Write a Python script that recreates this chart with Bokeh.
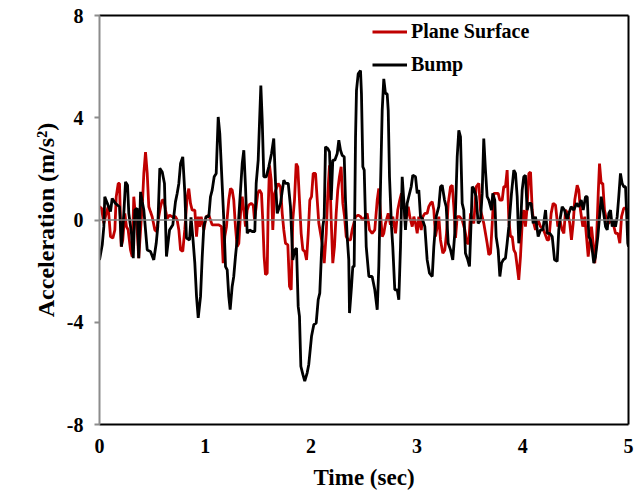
from bokeh.plotting import figure
from bokeh.models import Range1d, FixedTicker, LinearAxis, Legend, LegendItem, Span
from bokeh.embed import file_html
from bokeh.resources import INLINE

x_ticks = [0, 1, 2, 3, 4, 5]
y_ticks = [-8, -4, 0, 4, 8]
y_tick_labels = {-8: "-8", -4: "-4", 0: "0", 4: "4", 8: "8"}

bump_t = [
    0.000, 0.026, 0.041, 0.050, 0.073, 0.104, 0.120, 0.151, 0.189, 0.208,
    0.230, 0.246, 0.265, 0.277, 0.302, 0.319, 0.334, 0.356, 0.371, 0.388,
    0.404, 0.419, 0.451, 0.482, 0.513, 0.536, 0.551, 0.570, 0.593, 0.614,
    0.633, 0.662, 0.693, 0.718, 0.734, 0.750, 0.766, 0.787, 0.806, 0.822,
    0.851, 0.865, 0.884, 0.901, 0.917, 0.933, 0.955, 0.971, 0.986, 1.008,
    1.033, 1.049, 1.065, 1.084, 1.103, 1.122, 1.137, 1.153, 1.175, 1.191,
    1.207, 1.222, 1.235, 1.254, 1.269, 1.285, 1.301, 1.317, 1.333, 1.349,
    1.364, 1.380, 1.396, 1.418, 1.443, 1.468, 1.481, 1.500, 1.512, 1.525,
    1.538, 1.553, 1.576, 1.600, 1.626, 1.647, 1.664, 1.680, 1.711, 1.742,
    1.758, 1.784, 1.805, 1.827, 1.846, 1.862, 1.878, 1.890, 1.903, 1.922,
    1.940, 1.963, 1.978, 2.004, 2.026, 2.048, 2.067, 2.082, 2.098, 2.111,
    2.124, 2.136, 2.158, 2.174, 2.190, 2.205, 2.224, 2.247, 2.262, 2.278,
    2.294, 2.313, 2.325, 2.341, 2.356, 2.363, 2.382, 2.394, 2.407, 2.420,
    2.429, 2.445, 2.467, 2.476, 2.489, 2.502, 2.521, 2.546, 2.577, 2.602,
    2.625, 2.640, 2.656, 2.672, 2.687, 2.703, 2.719, 2.729, 2.741, 2.760,
    2.772, 2.791, 2.814, 2.829, 2.845, 2.861, 2.876, 2.892, 2.908, 2.923,
    2.946, 2.961, 2.987, 3.003, 3.018, 3.034, 3.050, 3.075, 3.097, 3.119,
    3.145, 3.160, 3.182, 3.207, 3.223, 3.239, 3.261, 3.277, 3.296, 3.318,
    3.339, 3.358, 3.381, 3.396, 3.412, 3.428, 3.443, 3.459, 3.481, 3.497,
    3.513, 3.523, 3.538, 3.560, 3.579, 3.601, 3.617, 3.632, 3.648, 3.664,
    3.680, 3.705, 3.717, 3.736, 3.749, 3.768, 3.784, 3.800, 3.816, 3.837,
    3.853, 3.869, 3.894, 3.916, 3.932, 3.948, 3.963, 3.979, 3.995, 4.010,
    4.026, 4.042, 4.058, 4.080, 4.099, 4.121, 4.146, 4.168, 4.190, 4.216,
    4.232, 4.256, 4.279, 4.301, 4.326, 4.341, 4.357, 4.373, 4.395, 4.421,
    4.436, 4.458, 4.483, 4.509, 4.530, 4.553, 4.572, 4.594, 4.610, 4.625,
    4.641, 4.657, 4.672, 4.688, 4.710, 4.729, 4.742, 4.761, 4.783, 4.799,
    4.814, 4.830, 4.846, 4.861, 4.877, 4.893, 4.908, 4.924, 4.940, 4.955,
    4.972, 4.981, 4.993, 5.000,
]
bump_acc = [
    -1.56, -0.97, -0.26, 0.91, 0.66, 0.33, 0.84, 0.65, 0.52, -1.04,
    0.26, 1.49, 1.36, 0.26, -0.52, -1.49, 0.39, 0.46, -1.49, 1.10,
    0.71, 0.39, -1.17, -1.23, -1.56, -0.91, -0.26, 2.02, 1.88, 1.43,
    -1.43, -0.39, -0.19, 0.71, 1.04, 1.43, 2.21, 2.47, 1.10, -0.71,
    -0.78, 0.10, -0.78, -1.69, -2.99, -3.83, -2.99, -1.43, -0.26, 0.13,
    0.13, 0.91, 1.17, 1.69, 1.82, 4.03, 3.38, 1.95, 0.00, -1.82,
    -1.95, -2.99, -3.51, -2.60, -2.21, -1.43, -0.78, 0.13, 1.17, 2.21,
    2.73, 1.30, -0.52, -0.39, -0.45, -0.45, 1.43, 2.34, 3.77, 5.26,
    3.90, 1.69, 1.69, 2.08, 2.60, 3.19, 1.43, 0.26, 0.65, 1.56,
    1.43, 1.43, 0.52, -1.56, -1.17, -1.10, -3.38, -3.77, -5.72, -6.04,
    -6.30, -5.98, -5.65, -4.55, -4.09, -4.03, -3.12, -2.86, -1.30, -0.26,
    0.13, 2.86, 2.79, 2.66, 0.78, 2.34, 2.34, 2.60, 3.12, 2.73,
    2.53, 2.47, 0.78, -0.65, -1.56, -3.64, -2.60, -1.82, -1.82, 3.25,
    5.07, 5.72, 5.85, 4.94, 2.08, 1.95, -1.04, -2.21, -2.21, -2.73,
    -3.51, -1.82, 1.30, 4.29, 5.52, 4.94, 4.94, 4.29, 1.69, -0.26,
    -1.04, -2.73, -2.73, -3.12, -1.04, 1.69, 0.78, -0.39, 0.65, 0.91,
    1.30, 1.75, 1.69, 1.04, 1.17, 0.13, 0.06, -0.26, -1.56, -2.08,
    -2.21, -1.04, 0.13, 0.52, 1.30, 1.36, 0.78, 0.52, -0.91, -1.17,
    -1.56, -0.52, 2.47, 3.51, 3.25, 0.65, 0.39, -1.30, -1.56, -1.82,
    0.00, 1.30, 1.23, 0.91, -0.13, 0.00, 1.04, 3.19, 1.95, 0.91,
    0.78, 0.39, 1.04, 0.78, -0.65, -1.17, -2.21, -1.69, -1.56, -1.49,
    -0.91, -0.26, 1.04, 1.95, 1.82, 0.91, -0.91, -0.26, 1.17, 1.69,
    1.75, 0.39, 0.65, 0.65, -0.13, 0.13, -0.65, -0.39, -0.39, 0.39,
    -0.52, -0.52, -0.65, -1.56, -1.62, -0.39, 0.13, 0.52, 0.39, 0.00,
    0.26, 0.52, 0.39, 0.65, 0.52, 0.78, 0.39, 0.91, 0.91, -0.65,
    -0.78, -1.17, -1.69, -1.43, -0.65, 0.26, 0.91, 0.39, -0.26, -0.39,
    0.26, 0.39, -0.26, 0.00, -0.26, 0.13, 0.91, 1.82, 1.43, 1.30,
    1.30, 0.39, -0.91, -1.04,
]

plane_t = [
    0.000, 0.019, 0.041, 0.063, 0.082, 0.104, 0.126, 0.145, 0.158, 0.177,
    0.189, 0.205, 0.220, 0.239, 0.255, 0.271, 0.293, 0.309, 0.324, 0.340,
    0.356, 0.371, 0.388, 0.404, 0.419, 0.435, 0.451, 0.466, 0.482, 0.498,
    0.523, 0.539, 0.560, 0.577, 0.593, 0.608, 0.624, 0.640, 0.662, 0.687,
    0.718, 0.734, 0.750, 0.766, 0.787, 0.806, 0.829, 0.844, 0.860, 0.876,
    0.901, 0.917, 0.933, 0.945, 0.961, 0.986, 1.008, 1.033, 1.065, 1.096,
    1.128, 1.153, 1.169, 1.184, 1.200, 1.222, 1.238, 1.254, 1.269, 1.285,
    1.301, 1.317, 1.333, 1.349, 1.364, 1.380, 1.396, 1.411, 1.434, 1.453,
    1.465, 1.481, 1.496, 1.512, 1.531, 1.543, 1.556, 1.569, 1.585, 1.594,
    1.607, 1.623, 1.638, 1.654, 1.689, 1.711, 1.727, 1.742, 1.758, 1.780,
    1.796, 1.812, 1.827, 1.843, 1.859, 1.874, 1.890, 1.906, 1.922, 1.940,
    1.957, 1.973, 1.988, 2.004, 2.020, 2.042, 2.058, 2.073, 2.089, 2.105,
    2.124, 2.143, 2.158, 2.174, 2.190, 2.205, 2.221, 2.237, 2.252, 2.268,
    2.284, 2.300, 2.316, 2.332, 2.351, 2.372, 2.388, 2.404, 2.420, 2.445,
    2.467, 2.489, 2.514, 2.530, 2.552, 2.577, 2.602, 2.625, 2.640, 2.656,
    2.672, 2.687, 2.703, 2.729, 2.750, 2.772, 2.798, 2.819, 2.838, 2.854,
    2.876, 2.892, 2.918, 2.933, 2.956, 2.971, 2.987, 3.003, 3.018, 3.041,
    3.056, 3.075, 3.097, 3.112, 3.129, 3.145, 3.160, 3.176, 3.192, 3.207,
    3.223, 3.245, 3.264, 3.280, 3.296, 3.318, 3.334, 3.349, 3.365, 3.381,
    3.403, 3.428, 3.453, 3.475, 3.490, 3.507, 3.523, 3.538, 3.560, 3.585,
    3.601, 3.617, 3.632, 3.648, 3.664, 3.680, 3.696, 3.712, 3.727, 3.743,
    3.768, 3.784, 3.806, 3.821, 3.837, 3.853, 3.869, 3.885, 3.901, 3.916,
    3.932, 3.948, 3.963, 3.979, 3.995, 4.010, 4.026, 4.042, 4.058, 4.074,
    4.090, 4.105, 4.121, 4.146, 4.168, 4.190, 4.209, 4.232, 4.247, 4.269,
    4.288, 4.310, 4.332, 4.351, 4.373, 4.389, 4.405, 4.426, 4.445, 4.461,
    4.477, 4.492, 4.515, 4.530, 4.546, 4.568, 4.587, 4.603, 4.619, 4.634,
    4.650, 4.666, 4.681, 4.698, 4.714, 4.726, 4.742, 4.757, 4.773, 4.792,
    4.814, 4.836, 4.855, 4.877, 4.899, 4.918, 4.934, 4.955, 4.972, 4.993,
]
plane_acc = [
    0.52, 0.46, -0.13, 0.26, 0.52, -0.65, -0.71, -0.39, 0.91, 1.43,
    1.43, -1.04, -0.78, 0.26, -0.26, -0.39, -1.17, -1.43, 0.91, 0.13,
    -0.39, -1.49, -0.39, 0.52, 1.82, 2.66, 1.82, 0.52, 0.32, 0.13,
    -0.39, -0.45, 0.13, 0.52, 0.78, 0.78, 0.39, 0.06, 0.19, 0.13,
    0.13, 0.00, -0.39, -1.17, -1.23, -0.39, 0.91, 1.23, 0.65, 0.39,
    0.39, -0.65, 0.13, -0.26, 0.13, -0.39, 0.13, 0.19, -0.19, -0.19,
    -0.19, -0.26, -1.69, -0.65, -0.26, 0.78, 1.23, 1.17, 0.78, -0.26,
    -1.04, -0.91, 0.26, 0.91, 0.39, -0.26, 0.39, 0.58, 0.65, 0.58,
    0.00, 0.52, 1.04, 1.17, 1.04, 0.00, -1.43, -2.14, -2.08, 0.39,
    2.14, 1.56, -0.39, 1.04, 1.43, 1.30, 0.26, -0.39, -0.91, -0.97,
    -2.60, -2.73, 0.00, 0.78, 2.21, 2.08, 0.78, -0.52, -1.17, -1.23,
    -1.56, -0.52, 0.78, 0.91, 1.82, 1.82, 0.78, -0.13, -0.52, -0.91,
    -1.69, -0.52, 1.04, 2.14, 0.00, -1.69, -1.04, 0.26, 1.17, 1.69,
    2.08, 0.65, 0.13, -0.65, -0.78, -0.78, -0.39, -0.13, 0.13, 0.19,
    0.13, 0.00, 0.13, 0.26, -0.39, -0.52, -0.39, 0.78, 1.23, 0.26,
    -0.65, -0.52, -0.13, 0.26, -0.19, 0.13, -0.52, 0.39, 0.78, 1.04,
    0.65, -0.13, 0.52, 0.13, -0.26, 0.13, -0.13, -0.52, 0.13, -0.39,
    0.13, 0.26, 0.26, 0.52, 0.65, 0.71, 0.39, -0.65, -0.26, 0.13,
    -0.78, -1.30, -1.17, -0.52, 0.65, 1.30, 1.36, 0.52, -0.70, 0.13,
    0.13, 0.00, -0.39, -0.91, -0.91, 0.26, 0.00, -0.13, 1.30, 1.43,
    0.39, 0.13, -0.13, -0.52, -0.91, -1.36, -1.30, -0.13, 1.04, 1.04,
    1.04, 0.78, 0.78, 1.30, 1.30, 1.95, 0.00, -0.65, -0.65, -1.17,
    -1.30, -1.82, -2.34, -1.43, -0.13, 0.39, -0.26, 0.52, 1.82, 1.88,
    0.39, -0.13, -0.39, 0.00, -0.26, -0.32, -0.52, -0.78, -0.78, 0.26,
    0.65, 0.58, -0.26, 0.00, -0.39, -0.52, 0.39, 0.26, -0.13, -0.78,
    -0.13, 0.78, 1.36, 1.17, 0.39, -0.26, 0.13, -0.65, -1.43, -0.91,
    -0.26, -0.91, -1.69, -0.78, 1.04, 2.21, 1.43, 1.43, 0.39, 0.00,
    -0.13, 0.00, -0.13, -0.52, -0.52, -0.91, 0.13, 0.46, 0.46, 0.39,
]

n_b = min(len(bump_t), len(bump_acc))
n_p = min(len(plane_t), len(plane_acc))

FONT = "Liberation Serif"

p = figure(width=635, height=492, output_backend="svg", toolbar_location=None,
           x_range=Range1d(0, 5), y_range=Range1d(-8, 8),
           min_border_left=99, min_border_right=7, min_border_top=15, min_border_bottom=66)
p.outline_line_color = None
p.xgrid.visible = False
p.ygrid.visible = False
p.background_fill_color = "white"
p.border_fill_color = "white"

# x axis
xa = p.xaxis[0]
xa.ticker = FixedTicker(ticks=x_ticks)
xa.major_tick_in = 0
xa.major_tick_out = 0
xa.minor_tick_in = 0
xa.minor_tick_out = 0
xa.axis_line_color = "black"
xa.axis_line_width = 2
xa.major_label_text_font = FONT
xa.major_label_text_font_style = "bold"
xa.major_label_text_font_size = "20px"
xa.major_label_text_color = "black"
xa.major_label_standoff = 14
xa.axis_label = "Time (sec)"
xa.axis_label_text_font = FONT
xa.axis_label_text_font_style = "bold"
xa.axis_label_text_font_size = "23px"
xa.axis_label_text_color = "black"
xa.axis_label_standoff = 9

# y axis
ya = p.yaxis[0]
ya.ticker = FixedTicker(ticks=y_ticks)
ya.major_label_overrides = y_tick_labels
ya.major_tick_in = 0
ya.major_tick_out = 5
ya.major_tick_line_color = "#8c8c8c"
ya.major_tick_line_width = 2
ya.minor_tick_in = 0
ya.minor_tick_out = 0
ya.axis_line_color = "#8c8c8c"
ya.axis_line_width = 2
ya.major_label_text_font = FONT
ya.major_label_text_font_style = "bold"
ya.major_label_text_font_size = "20px"
ya.major_label_text_color = "black"
ya.major_label_standoff = 11
ya.axis_label = "Acceleration (m/s\u00b2)"
ya.axis_label_text_font = FONT
ya.axis_label_text_font_style = "bold"
ya.axis_label_text_font_size = "24px"
ya.axis_label_text_color = "black"
ya.axis_label_standoff = 5

# frame border lines (top and right)
for side in ("above", "right"):
    ax = LinearAxis(ticker=FixedTicker(ticks=[]), axis_line_color="black", axis_line_width=2,
                    major_tick_in=0, major_tick_out=0, minor_tick_in=0, minor_tick_out=0,
                    major_label_text_font_size="0px", major_label_standoff=0)
    p.add_layout(ax, side)

p.add_layout(Span(location=0, dimension="width", line_color="#7f7f7f", line_width=1.5))

r_plane = p.line(plane_t[:n_p], plane_acc[:n_p], line_color="#c00000", line_width=2.8)
r_bump = p.line(bump_t[:n_b], bump_acc[:n_b], line_color="black", line_width=2.8)

legend = Legend(items=[LegendItem(label="Plane Surface", renderers=[r_plane]),
                       LegendItem(label="Bump", renderers=[r_bump])],
                location=(273, 348))
legend.border_line_color = None
legend.background_fill_alpha = 0
legend.label_text_font = FONT
legend.label_text_font_style = "bold"
legend.label_text_font_size = "20px"
legend.label_text_color = "black"
legend.glyph_width = 35
legend.glyph_height = 23
legend.label_height = 23
legend.label_standoff = 4
legend.spacing = 10
legend.padding = 0
legend.margin = 0
p.add_layout(legend)

open("out.html", "w").write(file_html(p, INLINE))
